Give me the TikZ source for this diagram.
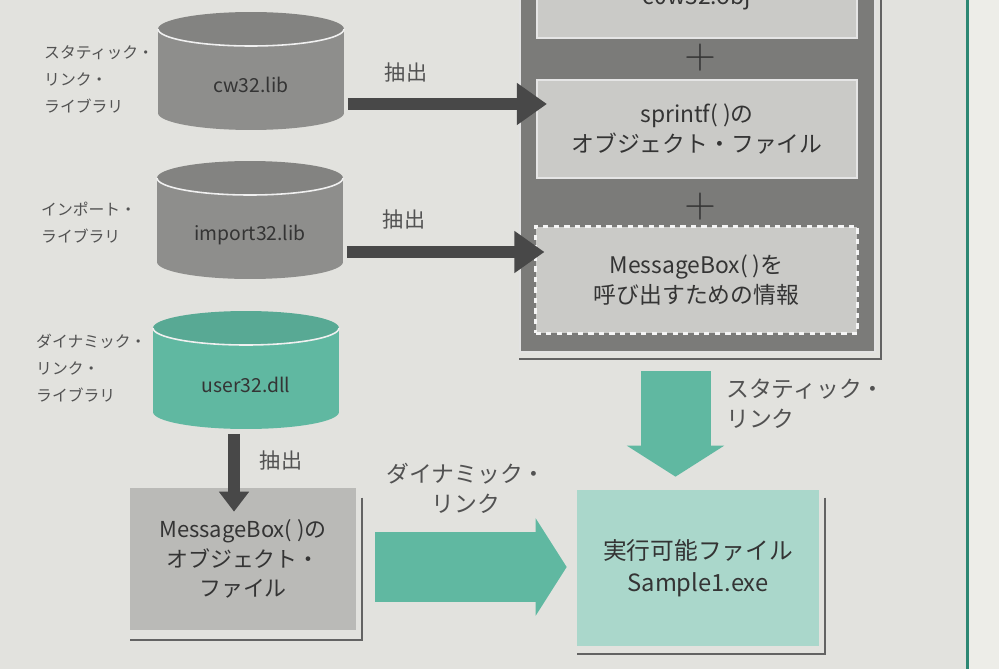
\documentclass[tikz,border=0pt]{standalone}
\usepackage{fontspec}
\setmainfont{Noto Sans CJK JP}
\usepackage{tikz}
\usetikzlibrary{arrows.meta}
\definecolor{bggray}{RGB}{226,226,222}
\definecolor{pagewhite}{RGB}{237,237,232}
\definecolor{edgeteal}{RGB}{45,135,115}
\definecolor{cylgray}{RGB}{142,142,140}
\definecolor{framegray}{RGB}{123,123,121}
\definecolor{cellgray}{RGB}{202,202,199}
\definecolor{objgray}{RGB}{186,186,183}
\definecolor{linkteal}{RGB}{96,184,161}
\definecolor{exeteal}{RGB}{170,215,203}
\definecolor{arrowgray}{RGB}{72,72,72}
\definecolor{inkgray}{RGB}{52,52,52}
\definecolor{labelgray}{RGB}{82,82,82}
% drum for a library: node name, colour
\newcommand\libdrum[2]{%
  \fill[#2] ([yshift=-0.34cm]#1.north west) -- ([yshift=0.34cm]#1.south west)
    arc[start angle=180, end angle=360, x radius=1.86cm, y radius=0.34cm]
    -- ([yshift=-0.34cm]#1.north east) -- cycle;
  \fill[#2!92!black] ([yshift=-0.34cm]#1.north)
    ellipse[x radius=1.86cm, y radius=0.34cm];
  \draw[white!88!gray, line width=0.9pt] ([yshift=-0.34cm]#1.north west)
    arc[start angle=180, end angle=360, x radius=1.86cm, y radius=0.34cm];
}

\begin{document}
\begin{tikzpicture}[x=0.02cm, y=-0.02cm,
    drum/.style={inner sep=0pt, outer sep=0pt, minimum width=3.72cm,
      minimum height=2.36cm, text=inkgray, font=\fontsize{11}{13}\selectfont},
    cell/.style={rectangle, fill=cellgray, draw=white!80!gray, line width=1.2pt,
      minimum width=6.4cm, align=center, text=inkgray,
      font=\fontsize{13}{17}\selectfont},
    sidelbl/.style={anchor=west, align=left, text=labelgray,
      font=\fontsize{9}{15.4}\selectfont},
    linklbl/.style={text=inkgray!85!white, font=\fontsize{13}{17}\selectfont},
    darrow/.style={draw=arrowgray, line width=0.24cm},
    tarrow/.style={draw=linkteal, line width=1.4cm,
      -{Triangle[length=0.62cm, width=1.92cm]}},
    shd/.style={draw=arrowgray!85, line width=1.1pt}
  ]
    \useasboundingbox (0,0) rectangle (999,669);
    \clip (0,0) rectangle (999,669);
    \fill[bggray] (0,0) rectangle (999,669);
    \fill[pagewhite] (968,0) rectangle (999,669);
    \draw[edgeteal, line width=1.7pt] (967,0) -- (967,669);

    % libraries
    \node[drum] (cw) at (251,71) {};
    \libdrum{cw}{cylgray}
    \node[drum] (imp) at (250,220) {};
    \libdrum{imp}{cylgray}
    \node[drum] (dll) at (246,370) {};
    \libdrum{dll}{linkteal}
    \node[text=inkgray, font=\fontsize{11}{13}\selectfont] (cwt) at (251,85) {cw32.lib};
    \node[text=inkgray, font=\fontsize{11}{13}\selectfont] (impt) at (250,235) {import32.lib};
    \node[text=inkgray, font=\fontsize{11}{13}\selectfont] (dllt) at (246,385) {user32.dll};

    \node[sidelbl] (lblA) at (38,79) {スタティック・\\リンク・\\ライブラリ};
    \node[sidelbl] (lblB) at (35,223) {インポート・\\ライブラリ};
    \node[sidelbl] (lblC) at (30,368) {ダイナミック・\\リンク・\\ライブラリ};

    % linked objects
    \node[rectangle, fill=framegray, draw=white!78!gray, line width=1.2pt,
      minimum width=7.1cm, minimum height=8.24cm] (frame) at (697.5,146) {};
    \draw[shd] ([shift={(5,6)}]frame.north east) |- ([shift={(0,6)}]frame.south west);
    \node[cell, minimum height=1.6cm] (boxA) at (697,-2) {c0w32.obj};
    \node[text=inkgray, font=\fontsize{24}{24}\selectfont] (plusA) at (700,58) {$+$};
    \node[cell, minimum height=1.96cm] (boxB) at (697,129)
      {sprintf( )の\\オブジェクト・ファイル};
    \node[text=inkgray, font=\fontsize{24}{24}\selectfont] (plusB) at (700,207) {$+$};
    \node[cell, dashed, draw=white!92!gray, minimum width=6.44cm,
      minimum height=2.14cm] (boxC) at (696.5,280)
      {MessageBox( )を\\呼び出すための情報};

    \node[rectangle, fill=objgray, minimum width=4.52cm, minimum height=2.84cm,
      align=center, text=inkgray, font=\fontsize{12.5}{17}\selectfont]
      (objbox) at (243,559) {MessageBox( )の\\オブジェクト・\\ファイル};
    \draw[shd] ([shift={(6,10)}]objbox.north east) |- ([shift={(0,10)}]objbox.south west);

    \node[rectangle, fill=exeteal, minimum width=4.84cm, minimum height=3.12cm,
      align=center, text=inkgray, font=\fontsize{13.5}{18.5}\selectfont]
      (exe) at (698,568) {実行可能ファイル\\Sample1.exe};
    \draw[shd] ([shift={(6,8)}]exe.north east) |- ([shift={(0,8)}]exe.south west);

    % extraction
    \draw[darrow, -{Triangle[length=0.6cm, width=0.8cm]}, shorten <=0.08cm, shorten >=-0.22cm]
      ([yshift=-0.66cm]cw.east) -- ([yshift=-0.66cm]cw.east -| boxB.west);
    \draw[darrow, -{Triangle[length=0.6cm, width=0.8cm]}, shorten <=0.08cm, shorten >=-0.2cm]
      ([yshift=-0.64cm]imp.east) -- ([yshift=-0.64cm]imp.east -| boxC.west);
    \draw[darrow, -{Triangle[length=0.4cm, width=0.58cm]}, shorten <=0.1cm, shorten >=-0.48cm]
      ([xshift=-0.24cm]dll.south) -- ([xshift=-0.24cm]dll.south |- objbox.north);
    \node[linklbl, font=\fontsize{12}{14}\selectfont] (extA) at (406,72) {抽出};
    \node[linklbl, font=\fontsize{12}{14}\selectfont] (extB) at (404,219) {抽出};
    \node[linklbl, font=\fontsize{12}{14}\selectfont] (extC) at (281,460) {抽出};

    % linking
    \draw[tarrow, shorten <=0.36cm, shorten >=0.26cm]
      ([xshift=-0.44cm]frame.south) -- ([xshift=-0.44cm]frame.south |- exe.north);
    \draw[tarrow, shorten <=0.38cm, shorten >=0.2cm]
      ([yshift=-0.16cm]objbox.east) -- ([yshift=-0.16cm]objbox.east -| exe.west);
    \node[linklbl, anchor=west, align=left] (stlink) at (720,404) {スタティック・\\リンク};
    \node[linklbl, align=center] (dylink) at (466,488) {ダイナミック・\\リンク};
\end{tikzpicture}
\end{document}
